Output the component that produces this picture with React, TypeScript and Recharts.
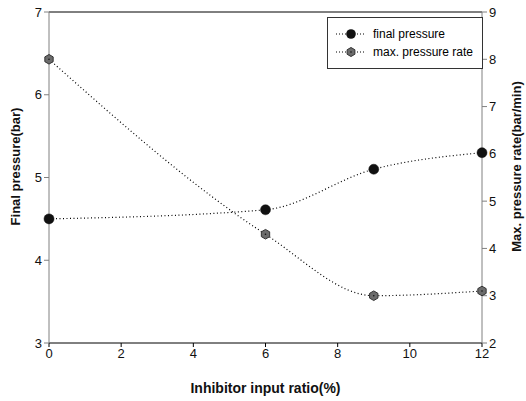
import {
  LineChart,
  Line,
  XAxis,
  YAxis,
  ReferenceLine,
} from "recharts";

const ratios = [0, 6, 9, 12];
const finalPressure = [4.5, 4.61, 5.1, 5.3];
const maxPressureRate = [8.0, 4.3, 3.0, 3.1];

const xTicks = [0, 2, 4, 6, 8, 10, 12];
const leftTicks = [3, 4, 5, 6, 7];
const rightTicks = [2, 3, 4, 5, 6, 7, 8, 9];

const data = ratios.map((r, i) => ({
  ratio: r,
  final: finalPressure[i],
  rate: maxPressureRate[i],
}));

const font = "'Liberation Sans', Arial, sans-serif";

function Hex({ cx, cy, r = 5 }: { cx?: number; cy?: number; r?: number }) {
  if (cx == null || cy == null) return null;
  const pts = [0, 1, 2, 3, 4, 5]
    .map((k) => {
      const a = (Math.PI / 3) * k + Math.PI / 6;
      return `${cx + r * Math.cos(a)},${cy + r * Math.sin(a)}`;
    })
    .join(" ");
  return (
    <g>
      <polygon points={pts} fill="#6b6b6b" stroke="#333" strokeWidth={1} />
      <circle cx={cx} cy={cy} r={0.8} fill="#111" />
    </g>
  );
}

// rotated axis title, placed inside the axis box
const axisTitle = (text: string, fromLeft: number) => (props: any) => {
  const vb = props.viewBox || {};
  const x = vb.x + fromLeft;
  const y = vb.y + vb.height / 2 - 11;
  return (
    <text
      x={x}
      y={y}
      transform={`rotate(-90 ${x} ${y})`}
      textAnchor="middle"
      dominantBaseline="central"
      style={{ fontSize: 13, fontWeight: "bold", fill: "#111", fontFamily: font }}
    >
      {text}
    </text>
  );
};

function LegendBox() {
  const row = (label: string, hex: boolean, y: number) => (
    <div style={{ position: "absolute", left: 8, top: y, display: "flex", alignItems: "center" }}>
      <svg width={30} height={12}>
        <line x1={0} y1={6} x2={30} y2={6} stroke="#000" strokeDasharray="1 2" />
        {hex ? <Hex cx={15} cy={6} r={4.5} /> : <circle cx={15} cy={6} r={4.8} fill="#111" />}
      </svg>
      <span style={{ marginLeft: 7, fontSize: 12, fontFamily: font, color: "#000" }}>{label}</span>
    </div>
  );
  return (
    <div
      style={{
        position: "absolute",
        left: 327,
        top: 17,
        width: 154,
        height: 50,
        border: "1px solid #333",
        background: "#fff",
      }}
    >
      {row("final pressure", false, 9)}
      {row("max. pressure rate", true, 27)}
    </div>
  );
}

export default function App() {
  return (
    <div style={{ position: "relative", width: 526, height: 401, background: "#fff" }}>
      <style>{`body{margin:0}`}</style>
      <LineChart width={526} height={401} data={data} margin={{ top: 12, right: 0, left: 0, bottom: 0 }}>
        <XAxis
          dataKey="ratio"
          type="number"
          domain={[0, 12]}
          ticks={xTicks}
          height={58}
          stroke="#000"
          tickSize={4}
          tick={{ fontSize: 13, fill: "#111", fontFamily: font }}
          label={{
            value: "Inhibitor input ratio(%)",
            position: "insideBottom",
            offset: 8,
            style: { fontSize: 14, fontWeight: "bold", fill: "#111", fontFamily: font },
          }}
        />
        <YAxis
          yAxisId="left"
          domain={[3, 7]}
          ticks={leftTicks}
          width={49}
          stroke="#808080"
          tickSize={5}
          tick={{ fontSize: 13, fill: "#111", fontFamily: font }}
          label={axisTitle("Final pressure(bar)", 15)}
        />
        <YAxis
          yAxisId="right"
          orientation="right"
          domain={[2, 9]}
          ticks={rightTicks}
          width={44}
          stroke="#808080"
          tickSize={5}
          tick={{ fontSize: 13, fill: "#111", fontFamily: font }}
          label={axisTitle("Max. pressure rate(bar/min)", 34)}
        />
        <ReferenceLine yAxisId="left" y={7} stroke="#000" />
        <Line
          yAxisId="left"
          type="monotone"
          dataKey="final"
          name="final pressure"
          stroke="#000"
          strokeWidth={1.2}
          strokeDasharray="1 2.5"
          dot={{ r: 5, fill: "#111", stroke: "#111", strokeWidth: 0.5, strokeDasharray: "0" }}
          isAnimationActive={false}
        />
        <Line
          yAxisId="right"
          type="monotone"
          dataKey="rate"
          name="max. pressure rate"
          stroke="#000"
          strokeWidth={1.2}
          strokeDasharray="1 2.5"
          dot={(p: any) => <Hex key={p.index} cx={p.cx} cy={p.cy} r={4.8} />}
          isAnimationActive={false}
        />
      </LineChart>
      <LegendBox />
    </div>
  );
}
